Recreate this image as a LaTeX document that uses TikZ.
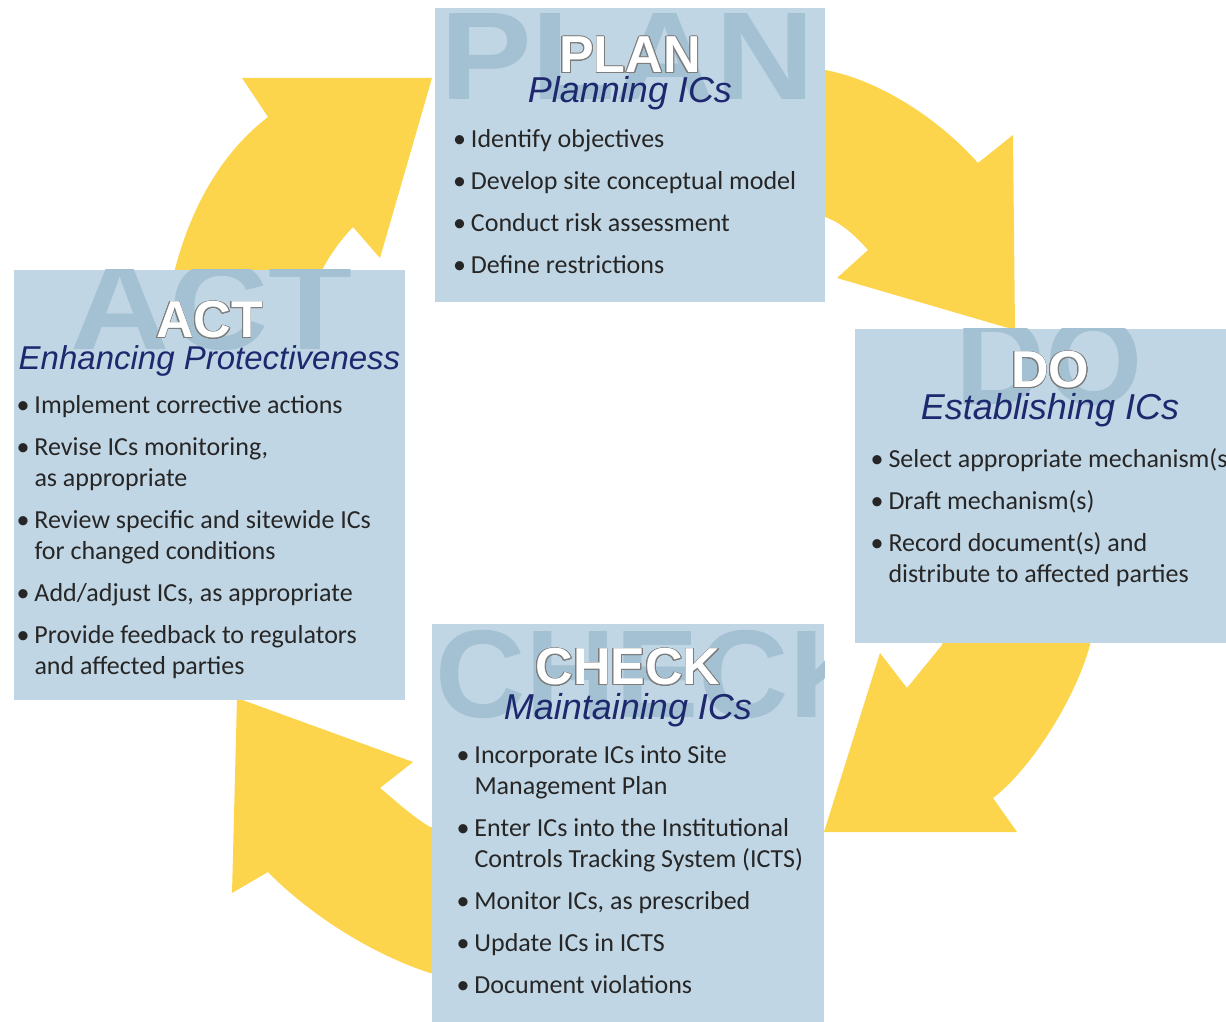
\documentclass[tikz,border=0pt]{standalone}
\usepackage{fontspec}
\setsansfont{Liberation Sans}
\newfontfamily\bodyfont{Carlito}
\usepackage[usenames]{xcolor}
\usepackage{contour}
\usepackage{tikz}
\usetikzlibrary{positioning}
\usetikzlibrary{calc}
\definecolor{boxblue}{RGB}{193,214,228}
\definecolor{markblue}{RGB}{163,193,211}
\definecolor{cycleyellow}{RGB}{252,213,77}
\definecolor{subnavy}{RGB}{30,40,110}
\definecolor{bodygray}{RGB}{38,38,38}
\definecolor{titleedge}{RGB}{125,125,125}
\contourlength{0.8pt}
\contournumber{24}
\pgfdeclarelayer{background}
\pgfsetlayers{background,main}
\tikzset{my_cycle/.style={x=1pt,y=-1pt}}
\tikzset{my_box/.style={rectangle, fill=boxblue, inner sep=0pt, minimum width=390pt}}
\tikzset{my_mark/.style={anchor=base west, inner sep=0pt, text=markblue, font=\sffamily\bfseries\fontsize{125}{125}\selectfont}}
\tikzset{my_title/.style={anchor=base, inner sep=0pt, text=white, font=\sffamily\bfseries\fontsize{52}{52}\selectfont}}
\tikzset{my_sub/.style={anchor=base, inner sep=0pt, text=subnavy, font=\sffamily\itshape\fontsize{36}{36}\selectfont}}
\tikzset{my_list/.style={anchor=base west, inner sep=0pt, text=bodygray, font=\bodyfont\fontsize{26}{31}\selectfont}}
\tikzset{my_arrow/.style={fill=cycleyellow}}
\newcommand{\bul}{\makebox[18pt][l]{\textbullet}}

\begin{document}
\begin{tikzpicture}[my_cycle]
    \useasboundingbox (0,0) rectangle (1226,1022);
    %\draw[help lines,step=100] (0,0) grid (1226,1022);
    \node[my_box, minimum height=294pt] (plan) at (630,155) {};
    \node[my_box, minimum height=314pt] (do) at (1050,486) {};
    \node[my_box, minimum height=416pt, minimum width=392pt] (check) at (628,832) {};
    \node[my_box, minimum height=430pt, minimum width=391pt] (act) at (209.5,485) {};

    % big letters behind the titles
    \begin{scope}
        \clip (plan.south west) rectangle (plan.north east);
        \node[my_mark] (planmark) at ($(plan.north west)+(5,92)$) {\scalebox{1.1}[1]{PLAN}};
    \end{scope}
    \begin{scope}
        \clip (do.south west) rectangle (do.north east);
        \node[my_mark] (domark) at ($(do.north west)+(100,76)$) {DO};
    \end{scope}
    \begin{scope}
        \clip (check.south west) rectangle (check.north east);
        \node[my_mark] (checkmark) at ($(check.north west)+(3,94)$) {CHECK};
    \end{scope}
    \begin{scope}
        \clip (act.south west) rectangle (act.north east);
        \node[my_mark] (actmark) at ($(act.north west)+(56,80)$) {\scalebox{1.1}[1]{ACT}};
    \end{scope}

    \node[my_title] (plantitle) at ($(plan.north)+(0,65)$) {\contour{titleedge}{PLAN}};
    \node[my_sub] (plansub) at ($(plan.north)+(0,95)$) {Planning ICs};
    \node[my_list] (planlist) at ($(plan.north west)+(18,140)$) {%
        \begin{tabular}[t]{@{}l@{}l@{}}
        \bul & Identify objectives\\[11pt]
        \bul & Develop site conceptual model\\[11pt]
        \bul & Conduct risk assessment\\[11pt]
        \bul & Define restrictions
        \end{tabular}};

    \node[my_title] (dotitle) at ($(do.north)+(0,59)$) {\contour{titleedge}{DO}};
    \node[my_sub] (dosub) at ($(do.north)+(0,91)$) {Establishing ICs};
    \node[my_list] (dolist) at ($(do.north west)+(15.5,139)$) {%
        \begin{tabular}[t]{@{}l@{}l@{}}
        \bul & Select appropriate mechanism(s)\\[11pt]
        \bul & Draft mechanism(s)\\[11pt]
        \bul & Record document(s) and\\
             & distribute to affected parties
        \end{tabular}};

    \node[my_title] (checktitle) at ($(check.north)+(0,61)$) {\contour{titleedge}{CHECK}};
    \node[my_sub] (checksub) at ($(check.north)+(0,96)$) {Maintaining ICs};
    \node[my_list] (checklist) at ($(check.north west)+(24.5,140)$) {%
        \begin{tabular}[t]{@{}l@{}l@{}}
        \bul & Incorporate ICs into Site\\
             & Management Plan\\[11pt]
        \bul & Enter ICs into the Institutional\\
             & Controls Tracking System (ICTS)\\[11pt]
        \bul & Monitor ICs, as prescribed\\[11pt]
        \bul & Update ICs in ICTS\\[11pt]
        \bul & Document violations
        \end{tabular}};

    \node[my_title] (acttitle) at ($(act.north)+(0,68)$) {\contour{titleedge}{ACT}};
    \node[my_sub, font=\sffamily\itshape\fontsize{33}{33}\selectfont] (actsub) at ($(act.north)+(0,100)$) {Enhancing Protectiveness};
    \node[my_list] (actlist) at ($(act.north west)+(2.5,144)$) {%
        \begin{tabular}[t]{@{}l@{}l@{}}
        \bul & Implement corrective actions\\[11pt]
        \bul & Revise ICs monitoring,\\
             & as appropriate\\[11pt]
        \bul & Review specific and sitewide ICs\\
             & for changed conditions\\[11pt]
        \bul & Add/adjust ICs, as appropriate\\[11pt]
        \bul & Provide feedback to regulators\\
             & and affected parties
        \end{tabular}};

    % yellow cycle arrows, under the boxes
    \begin{pgfonlayer}{background}
        \fill[white] (0,0) rectangle (1226,1022);
        % act -> plan
        \fill[my_arrow] (170,290) .. controls (188,205) and (225,150) .. (268,117)
            -- (242,78) -- (432,78) -- (380,258) -- (353,227)
            .. controls (336,245) and (325,262) .. (312,290) -- cycle;
        % plan -> do
        \fill[my_arrow] (810,70) -- (825,70) .. controls (880,80) and (940,120) .. (978,163)
            -- (1013,135) -- (1015,330) -- (837,278) -- (868,250)
            .. controls (855,235) and (840,222) .. (825,217) -- (810,217) -- cycle;
        % do -> check
        \fill[my_arrow] (945,630) -- (1092,630) -- (1090,645)
            .. controls (1075,700) and (1030,770) .. (993,798)
            -- (1017,832) -- (824,832) -- (880,653) -- (907,688) -- (942,645) -- cycle;
        % check -> act
        \fill[my_arrow] (445,827) -- (430,827) .. controls (410,815) and (395,800) .. (380,788)
            -- (413,762) -- (237,698) -- (232,893) -- (268,872)
            .. controls (300,905) and (360,950) .. (430,973) -- (445,973) -- cycle;
    \end{pgfonlayer}
\end{tikzpicture}
\end{document}
